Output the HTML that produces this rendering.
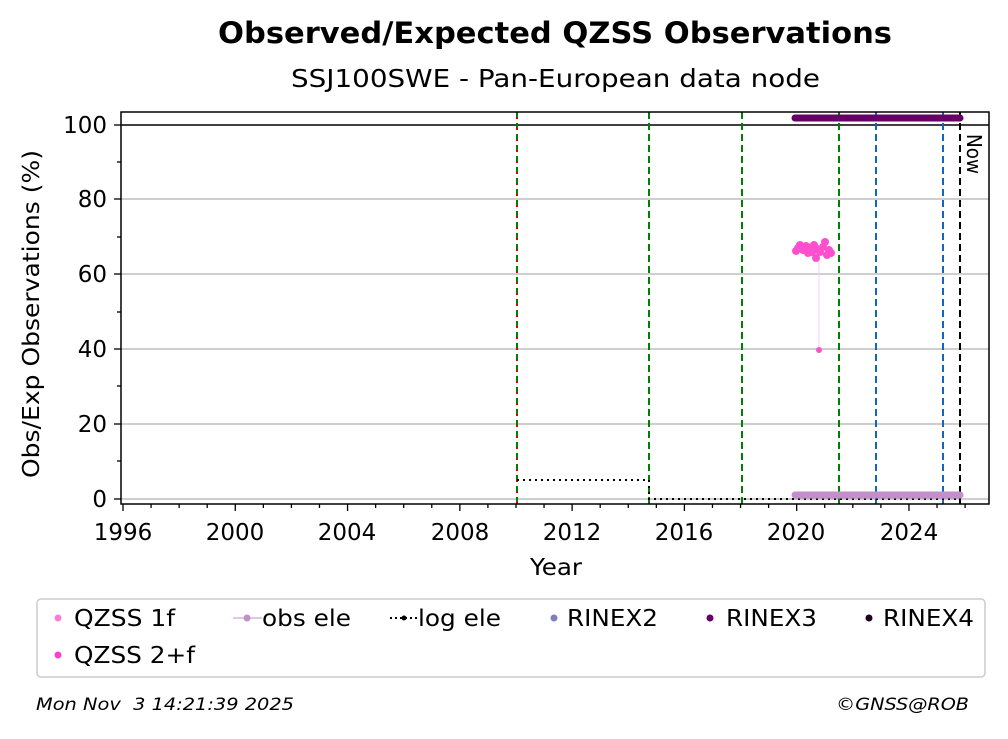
<!DOCTYPE html>
<html><head><style>
body{margin:0;background:#fff;}
svg text{font-family:"DejaVu Sans","Liberation Sans",sans-serif;white-space:pre;}
</style></head><body>
<svg width="1008" height="734" xmlns="http://www.w3.org/2000/svg">
<text x="218" y="43" font-size="29" font-weight="bold" textLength="674" lengthAdjust="spacingAndGlyphs">Observed/Expected QZSS Observations</text>
<text x="291" y="87" font-size="25" textLength="529" lengthAdjust="spacingAndGlyphs">SSJ100SWE - Pan-European data node</text>
<g stroke="#b0b0b0" stroke-width="1.3">
<line x1="121" x2="989" y1="424" y2="424"/><line x1="121" x2="989" y1="349" y2="349"/>
<line x1="121" x2="989" y1="274" y2="274"/><line x1="121" x2="989" y1="199" y2="199"/>
<line x1="121" x2="989" y1="499" y2="499"/>
</g>
<line x1="121" x2="989" y1="125" y2="125" stroke="#000" stroke-width="1.5"/>
<g stroke-width="2" stroke-dasharray="7,4" fill="none">
<line x1="517" x2="517" y1="112" y2="504" stroke="#e00000"/>
<line x1="517" x2="517" y1="112" y2="504" stroke="#008000" stroke-dasharray="5,6"/>
<line x1="649" x2="649" y1="112" y2="504" stroke="#008000"/>
<line x1="742" x2="742" y1="112" y2="504" stroke="#008000"/>
<line x1="839" x2="839" y1="112" y2="504" stroke="#008000"/>
<line x1="876" x2="876" y1="112" y2="504" stroke="#1565c0"/>
<line x1="943" x2="943" y1="112" y2="504" stroke="#1565c0"/>
<line x1="960" x2="960" y1="112" y2="504" stroke="#000"/>
</g>
<polyline points="517,480 649,480 649,499 960,499" fill="none" stroke="#000" stroke-width="2" stroke-dasharray="2,4"/>
<line x1="795" x2="960" y1="118" y2="118" stroke="#660066" stroke-width="7" stroke-linecap="round"/>
<line x1="795" x2="960" y1="495" y2="495" stroke="#c38fcb" stroke-width="7" stroke-linecap="round"/>
<line x1="819" x2="819" y1="258" y2="350" stroke="#ffccee" stroke-width="1"/>
<g fill="#ff4fcf">
<circle cx="819" cy="350" r="3"/>
<circle cx="796" cy="251" r="4"/><circle cx="800" cy="245" r="4"/><circle cx="803" cy="250" r="4"/><circle cx="806" cy="246" r="4"/>
<circle cx="809" cy="248" r="4"/><circle cx="812" cy="252" r="4"/><circle cx="814" cy="245" r="4"/><circle cx="817" cy="249" r="4"/>
<circle cx="816" cy="258" r="4"/><circle cx="820" cy="252" r="4"/><circle cx="823" cy="247" r="4"/><circle cx="825" cy="242" r="4"/>
<circle cx="827" cy="255" r="4"/><circle cx="829" cy="250" r="4"/><circle cx="831" cy="253" r="4"/><circle cx="798" cy="248" r="4"/><circle cx="808" cy="253" r="4"/>
</g>
<text transform="translate(967,134) rotate(90)" font-size="20" textLength="40" lengthAdjust="spacingAndGlyphs">Now</text>
<rect x="121" y="112" width="868" height="392" fill="none" stroke="#000" stroke-width="1.5"/>
<g stroke="#000" stroke-width="1.3">
<line x1="121" x2="114" y1="499" y2="499"/><line x1="121" x2="114" y1="424" y2="424"/><line x1="121" x2="114" y1="349" y2="349"/><line x1="121" x2="114" y1="274" y2="274"/><line x1="121" x2="114" y1="199" y2="199"/><line x1="121" x2="114" y1="125" y2="125"/>
<line x1="121" x2="117" y1="461" y2="461"/><line x1="121" x2="117" y1="386" y2="386"/><line x1="121" x2="117" y1="312" y2="312"/><line x1="121" x2="117" y1="237" y2="237"/><line x1="121" x2="117" y1="162" y2="162"/>
</g>
<g font-size="23" text-anchor="end">
<text x="107" y="507">0</text><text x="107" y="432">20</text><text x="107" y="357">40</text><text x="107" y="282">60</text><text x="107" y="207">80</text><text x="107" y="133">100</text>
</g>
<g stroke="#000" stroke-width="1.3" id="xt"></g>
<g font-size="23" text-anchor="middle">
<text x="123" y="540">1996</text><text x="235" y="540">2000</text><text x="347" y="540">2004</text><text x="460" y="540">2008</text><text x="572" y="540">2012</text><text x="684" y="540">2016</text><text x="796" y="540">2020</text><text x="909" y="540">2024</text>
</g>
<text x="530" y="575" font-size="23" textLength="52" lengthAdjust="spacingAndGlyphs">Year</text>
<text transform="translate(39,478) rotate(-90)" font-size="23" textLength="328" lengthAdjust="spacingAndGlyphs">Obs/Exp Observations (%)</text>
<rect x="37" y="599" width="948" height="78" rx="4" fill="#fff" stroke="#cccccc" stroke-width="1.5"/>
<g font-size="23">
<circle cx="58" cy="618" r="3.5" fill="#f77fd8"/><text x="74" y="626" textLength="101" lengthAdjust="spacingAndGlyphs">QZSS 1f</text>
<circle cx="58" cy="655" r="3.5" fill="#ff40cc"/><text x="74" y="663" textLength="121" lengthAdjust="spacingAndGlyphs">QZSS 2+f</text>
<line x1="233" x2="262" y1="618" y2="618" stroke="#c38fcb"/><circle cx="247" cy="618" r="3.5" fill="#c38fcb"/><text x="262" y="626" textLength="89" lengthAdjust="spacingAndGlyphs">obs ele</text>
<line x1="390" x2="418" y1="618" y2="618" stroke="#000" stroke-width="2" stroke-dasharray="2,3"/><circle cx="404" cy="618" r="2.5" fill="#000"/><text x="418" y="626" textLength="83" lengthAdjust="spacingAndGlyphs">log ele</text>
<circle cx="554" cy="618" r="3.5" fill="#7f7fbf"/><text x="567" y="626" textLength="91" lengthAdjust="spacingAndGlyphs">RINEX2</text>
<circle cx="710" cy="618" r="3.5" fill="#660066"/><text x="726" y="626" textLength="91" lengthAdjust="spacingAndGlyphs">RINEX3</text>
<circle cx="869" cy="618" r="3.5" fill="#220022"/><text x="883" y="626" textLength="91" lengthAdjust="spacingAndGlyphs">RINEX4</text>
</g>
<text x="36" y="710" font-size="17" font-style="italic" textLength="258" lengthAdjust="spacingAndGlyphs">Mon Nov  3 14:21:39 2025</text>
<text x="836" y="710" font-size="17" font-style="italic" textLength="133" lengthAdjust="spacingAndGlyphs">©GNSS@ROB</text>
</svg>
<script>
var g=document.getElementById('xt'),s='';
for(var y=1996;y<=2026;y++){var x=123+(y-1996)*28.07;var L=(y%4==0)?7:4;
s+='<line x1="'+x+'" x2="'+x+'" y1="504" y2="'+(504+L)+'"/>';}
g.innerHTML=s;
</script>
</body></html>
